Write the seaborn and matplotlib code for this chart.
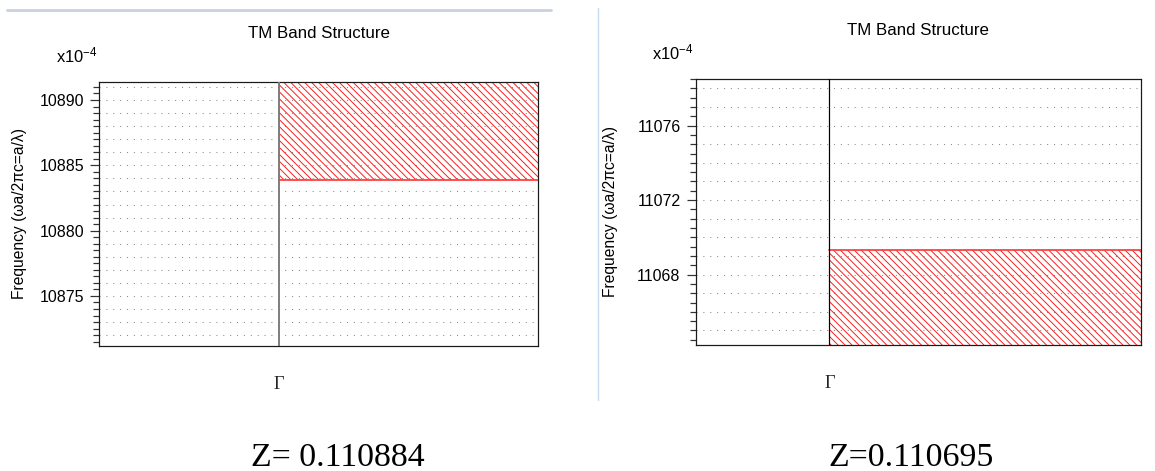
import numpy as np
import matplotlib
matplotlib.use('Agg')
import matplotlib.pyplot as plt
from matplotlib.lines import Line2D
from matplotlib.ticker import MultipleLocator, FixedLocator, FormatStrFormatter
import seaborn as sns


# band edges (units of 1e-4)
panel_z = ['Z= 0.110884', 'Z=0.110695']
band_lower = [10883.9, 11064.0]
band_upper = [10892.0, 11069.3]
edge_value = [10883.9, 11069.3]
y_limits = [(10871.17, 10891.4), (11064.22, 11078.52)]
x_limits = [(-0.409, 0.591), (-0.300, 0.700)]
major_step = [5, 4]
grid_range = [(10872, 10891), (11065, 11078)]
k_labels = ['Γ']
k_points = [0.0]

sns.set_theme(style='white')
plt.rcParams['font.family'] = ['Liberation Sans', 'DejaVu Sans']
plt.rcParams['mathtext.fontset'] = 'custom'
plt.rcParams['mathtext.rm'] = 'Liberation Sans'
plt.rcParams['mathtext.it'] = 'Liberation Sans:italic'
plt.rcParams['hatch.linewidth'] = 0.55

W, H, DPI = 1155, 471, 125
fig = plt.figure(figsize=(W / DPI, H / DPI), dpi=DPI)
fig.patch.set_facecolor('white')

# axes boxes in pixels: left, top, right, bottom
boxes = [(99.3, 81.7, 538.0, 346.0), (695.7, 78.7, 1141.0, 345.0)]
gamma_colors = ['#7a7a7a', '#000000']
gamma_widths = [1.1, 0.7]
z_centers = [338, 911]


def draw_panel(i):
    l, t, r, b = boxes[i]
    ax = fig.add_axes([l / W, 1 - b / H, (r - l) / W, (b - t) / H])
    ax.set_facecolor('white')
    ax.set_xlim(*x_limits[i])
    ax.set_ylim(*y_limits[i])

    # dotted horizontal grid every unit
    g0, g1 = grid_range[i]
    ax.hlines(np.arange(g0, g1 + 1), *x_limits[i], colors='#8a8a8a',
              linewidth=0.6, linestyles=(0, (1, 5.6)), zorder=1)

    # hatched band
    xmin, xmax = 0.0, x_limits[i][1] + 0.1
    ax.fill_between([xmin, xmax], band_lower[i], band_upper[i],
                    facecolor='none', edgecolor='#ff1a1a', hatch='\\' * 6,
                    linewidth=0, zorder=2)
    sns.lineplot(x=[xmin, xmax], y=[edge_value[i], edge_value[i]], ax=ax,
                 color='#ff3b3b', linewidth=1.0, zorder=3)

    for k in k_points:
        ax.axvline(k, color=gamma_colors[i], linewidth=gamma_widths[i], zorder=4)

    for s in ax.spines.values():
        s.set_visible(True)
        s.set_color('#1a1a1a')
        s.set_linewidth(0.7)

    ax.yaxis.set_major_locator(MultipleLocator(major_step[i]))
    ax.yaxis.set_minor_locator(MultipleLocator(0.5))
    ax.tick_params(axis='y', which='major', left=True, length=5.2, width=0.7,
                   color='#333333', pad=3.5, labelsize=9.2, labelcolor='black')
    ax.tick_params(axis='y', which='minor', left=True, length=3.2, width=0.7,
                   color='#333333')
    ax.yaxis.set_major_formatter(FormatStrFormatter('%d'))

    ax.xaxis.set_major_locator(FixedLocator(k_points))
    ax.set_xticklabels(k_labels, fontfamily='Liberation Serif', fontsize=10.5)
    ax.tick_params(axis='x', which='major', bottom=True, length=0, pad=17.5)

    ax.set_title('TM Band Structure', fontsize=9.7, pad=25.3, color='black')
    ax.set_ylabel('Frequency (ωa/2πc=a/λ)', fontsize=9.0, color='black')
    off = [72.6, 77.7][i]
    ax.yaxis.set_label_coords(-off / (r - l), 0.5)

    ax.annotate('x10$^{-4}$', xy=(0, 1), xycoords='axes fraction',
                xytext=(-2, 26), textcoords='offset pixels',
                ha='right', va='center', fontsize=9.5, color='black')

    fig.text(z_centers[i] / W, 1 - 466 / H, panel_z[i], ha='center',
             va='baseline', fontfamily='Liberation Serif', fontsize=19.5,
             color='black')
    return ax


for i in range(2):
    draw_panel(i)

# screenshot borders
fig.add_artist(Line2D([7 / W, 551 / W], [1 - 10 / H, 1 - 10 / H],
                      color='#c9d1de', linewidth=1.6))
fig.add_artist(Line2D([598 / W, 598 / W], [1 - 8 / H, 1 - 400 / H],
                      color='#c7dbf0', linewidth=0.8))

fig.savefig('out.png', dpi=DPI, facecolor='white')
